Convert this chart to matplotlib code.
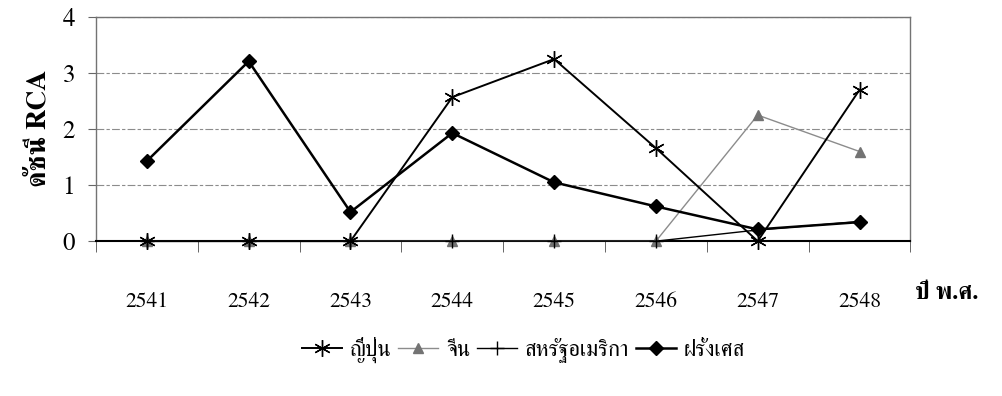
import matplotlib
matplotlib.use("Agg")
import matplotlib.pyplot as plt

plt.rcParams['font.family'] = ['FreeSerif', 'Liberation Serif', 'DejaVu Serif']

years = ['2541', '2542', '2543', '2544', '2545', '2546', '2547', '2548']
japan = [0, 0, 0, 2.57, 3.25, 1.66, 0, 2.7]       # ญี่ปุ่น
china = [0, 0, 0, 0, 0, 0, 2.25, 1.6]              # จีน
usa = [0, 0, 0, 0, 0, 0, 0.2, 0.35]                # สหรัฐอเมริกา
france = [1.43, 3.21, 0.52, 1.93, 1.05, 0.62, 0.21, 0.34]  # ฝรั่งเศส

x = list(range(len(years)))

fig = plt.figure(figsize=(10.03, 3.96), dpi=100)
ax = fig.add_axes([0.0957, 0.391, 0.812, 0.566])

ax.plot(x, china, color='0.55', lw=1, marker='^', ms=7, mfc='0.45', mec='0.45',
        label='จีน', clip_on=False, zorder=3)
ax.plot(x, usa, color='black', lw=1, marker='+', ms=10, mew=1,
        label='สหรัฐอเมริกา', clip_on=False, zorder=3)
ax.plot(x, france, color='black', lw=1.8, marker='D', ms=7,
        label='ฝรั่งเศส', clip_on=False, zorder=4)
ax.plot(x, japan, color='black', lw=1.4, marker=(6, 2, 0), ms=12, mew=1.0,
        label='ญี่ปุ่น', clip_on=False, zorder=5)

ax.set_xlim(-0.5, len(years) - 0.5)
ax.set_ylim(0, 4)
ax.set_yticks([0, 1, 2, 3, 4])
ax.set_xticks(x)
ax.set_xticklabels(years)
ax.set_xticks([i - 0.5 for i in range(len(years) + 1)], minor=True)
ax.tick_params(axis='x', which='major', length=0, pad=37, labelsize=15.5)
ax.tick_params(axis='x', which='minor', length=8, direction='out', color='0.3')
ax.tick_params(axis='y', length=6, direction='out', color='0.4', labelsize=18, pad=9)

ax.grid(axis='y', color='0.55', lw=0.8, linestyle=(0, (7, 2, 3, 2)))
for s in ['top', 'right', 'left']:
    ax.spines[s].set_color('0.45')
    ax.spines[s].set_linewidth(1)
ax.spines['bottom'].set_color('black')
ax.spines['bottom'].set_linewidth(1.5)

ax.set_ylabel('ดัชนี RCA', fontsize=20, fontweight='bold', labelpad=8)
fig.text(0.912, 0.258, 'ปี พ.ศ.', fontsize=17, fontweight='bold', va='center')

handles, labels = ax.get_legend_handles_labels()
order = [3, 0, 1, 2]
fig.legend([handles[i] for i in order], [labels[i] for i in order],
           loc='center', bbox_to_anchor=(0.522, 0.116), ncol=4, frameon=False,
           fontsize=16, handlelength=1.8, handletextpad=0.35, columnspacing=0.3)

fig.savefig('out.png', dpi=100)
